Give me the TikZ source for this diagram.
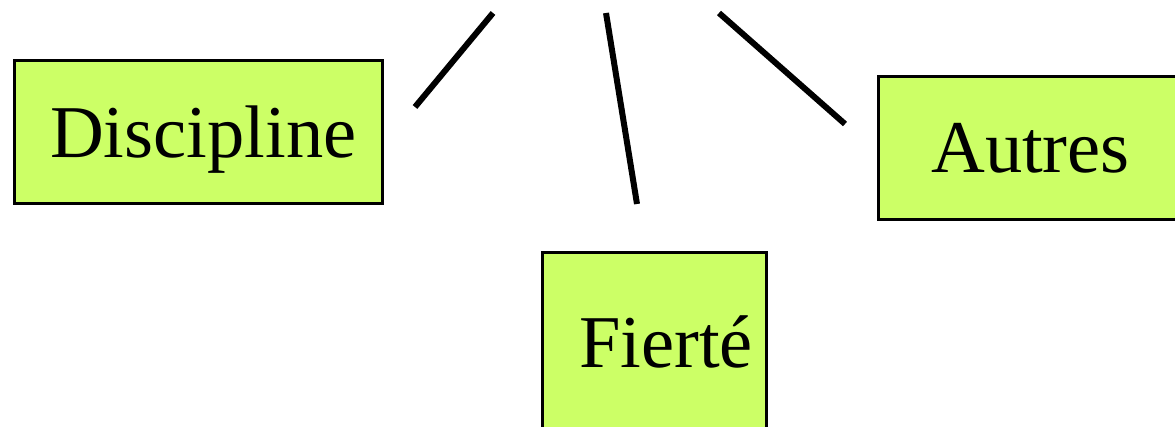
\documentclass[tikz,border=0pt]{standalone}
\usepackage{fontspec}
\setmainfont{Liberation Serif}
\definecolor{boxgreen}{HTML}{CCFF66}
\tikzset{
  greenbox/.style={draw=black, line width=3pt, fill=boxgreen},
  lbl/.style={anchor=base west, inner sep=0pt, font=\fontsize{74.5}{80}\selectfont},
  conn/.style={line width=6pt, black}
}
\begin{document}
\begin{tikzpicture}[x=1pt,y=-1pt]
\useasboundingbox (0,0) rectangle (1175,427);
% boxes
\path[greenbox] (14,61) rectangle (382,204);
\path[greenbox] (878,77) rectangle (1190,220);
\path[greenbox] (542,253) rectangle (766,440);
% labels
\node[lbl] (discipline) at (50,158) {Discipline};
\node[lbl] (autres) at (931,173) {Autres};
\node[lbl] (fierte) at (579,367) {Fierté};
% connector endpoints
\coordinate (a1) at (415,107);
\coordinate (a2) at (493,13);
\coordinate (b1) at (606,13);
\coordinate (b2) at (637,204);
\coordinate (c1) at (719,13);
\coordinate (c2) at (845,124);
\draw[conn] (a1) -- (a2);
\draw[conn] (b1) -- (b2);
\draw[conn] (c1) -- (c2);
\end{tikzpicture}
\end{document}
